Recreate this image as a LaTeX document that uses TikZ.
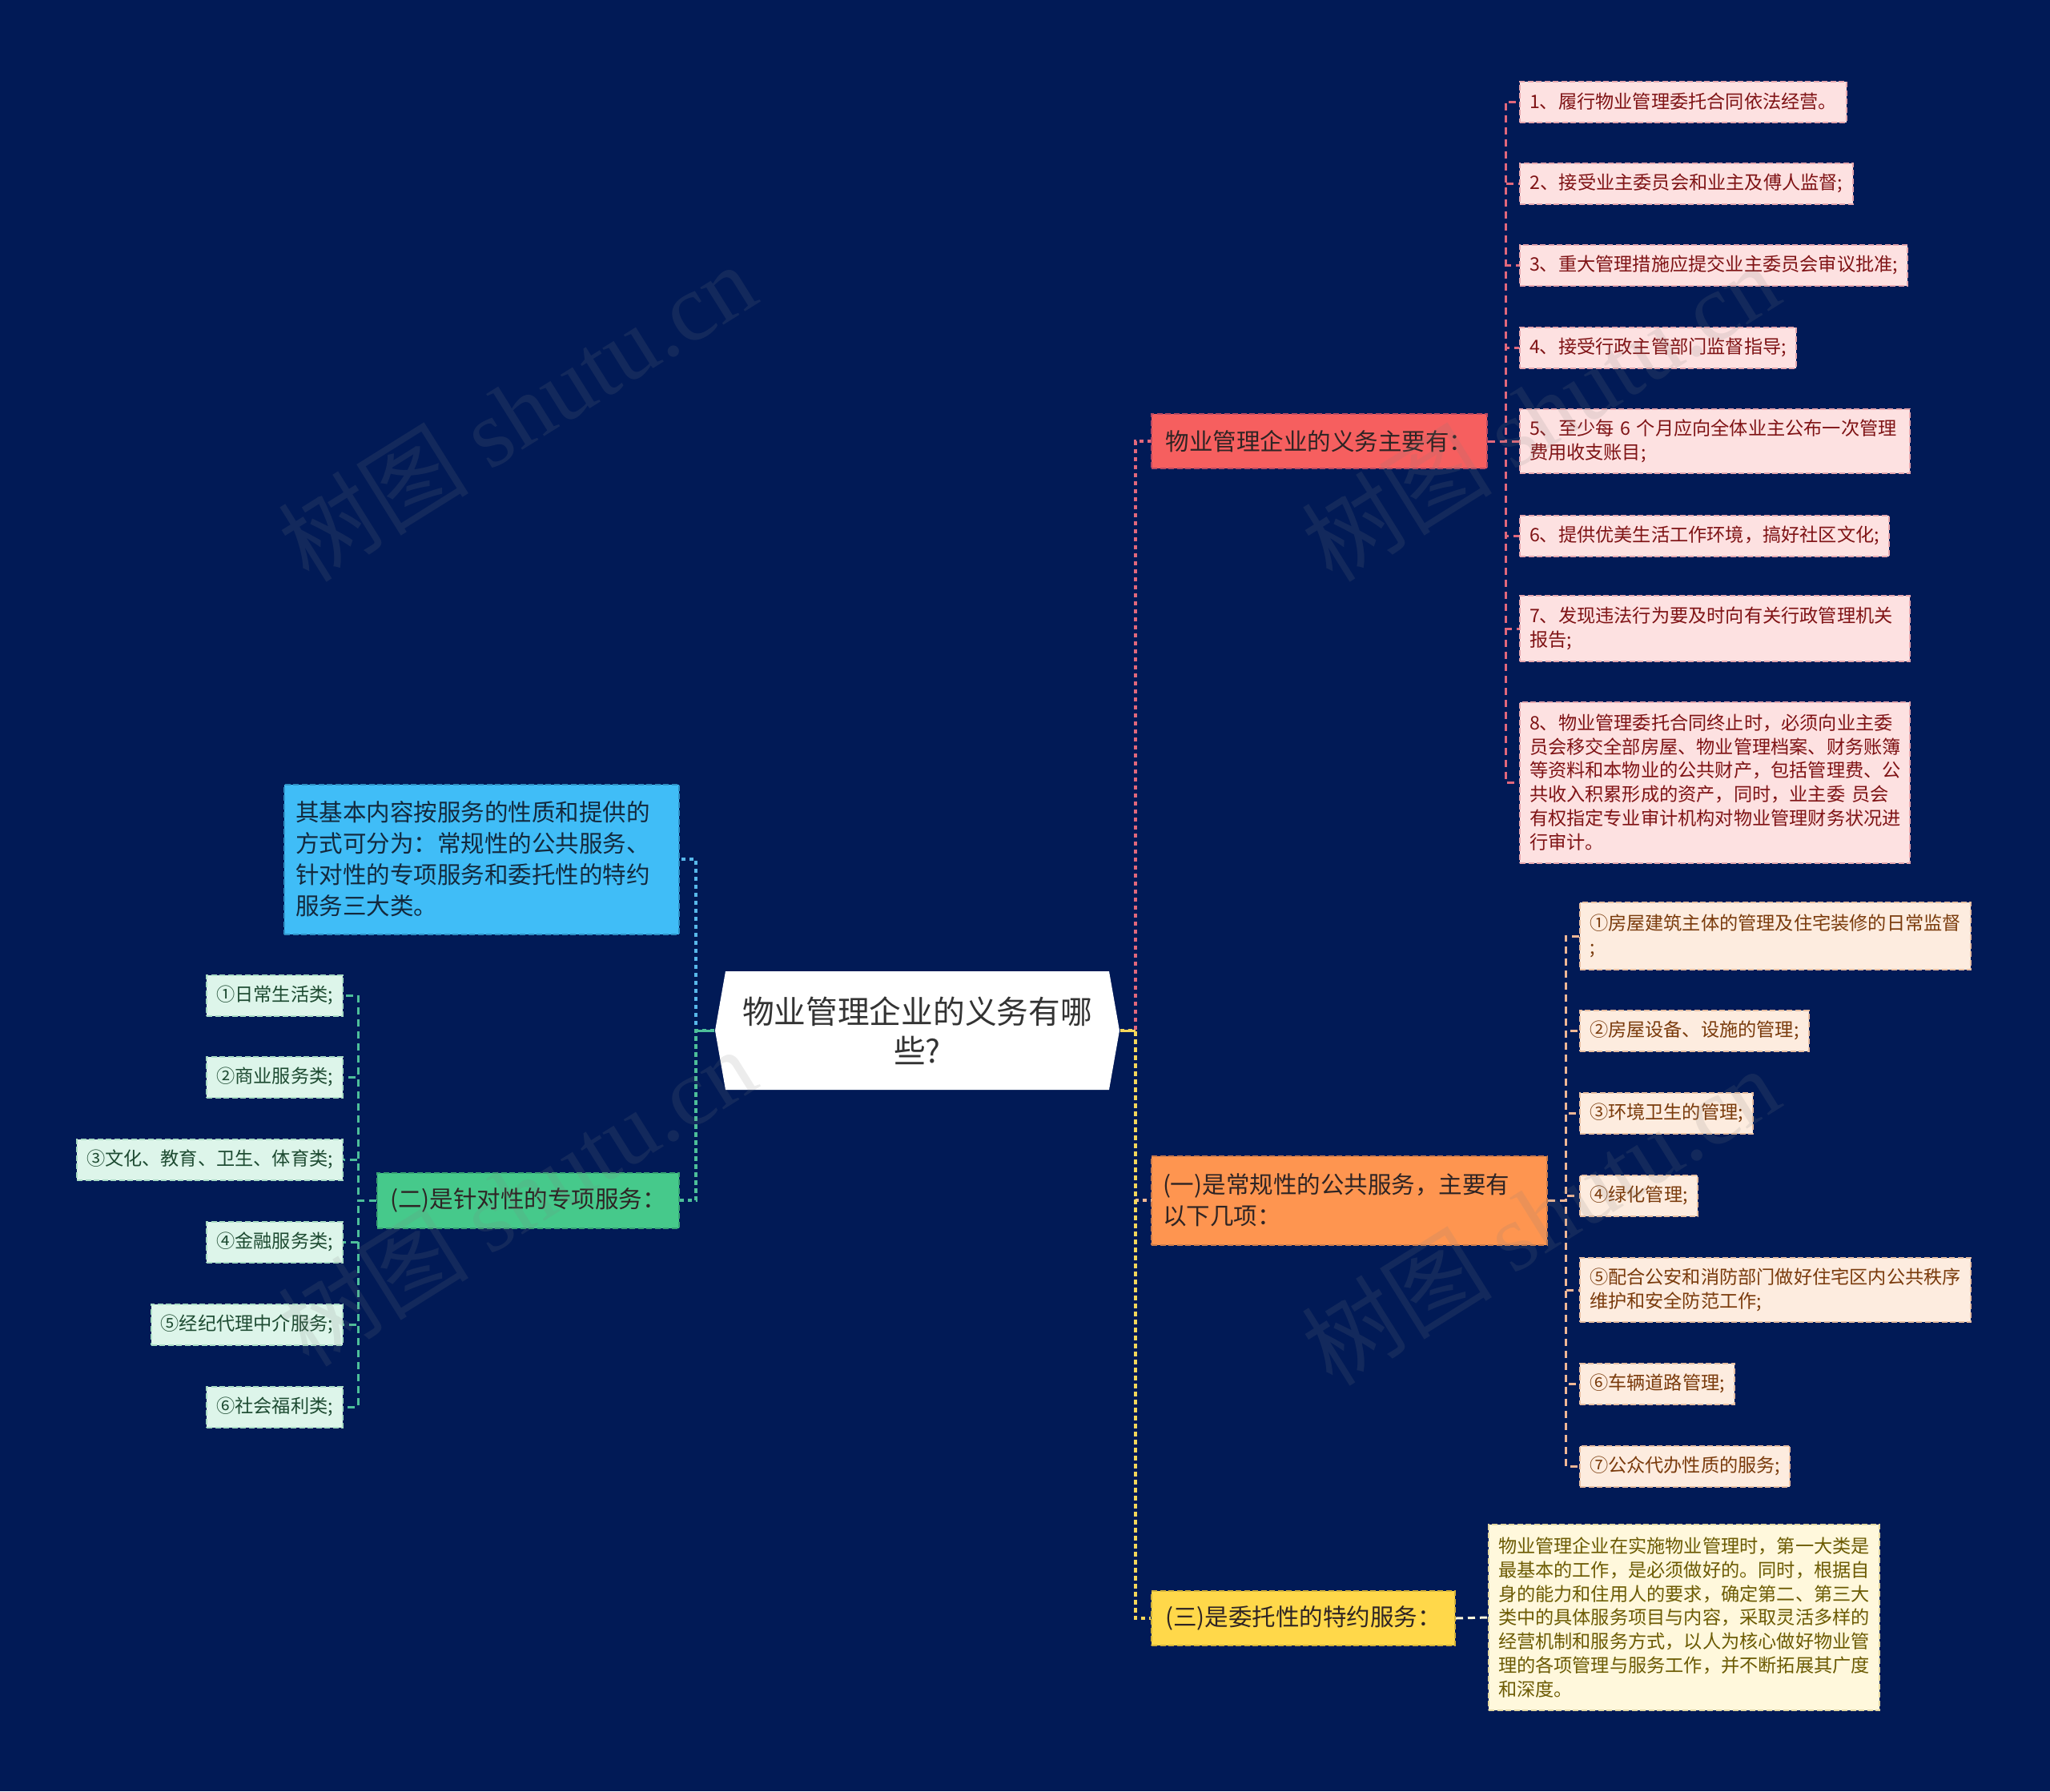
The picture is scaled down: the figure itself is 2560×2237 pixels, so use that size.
\documentclass[tikz,border=0pt]{standalone}
\usepackage{fontspec}
\newfontfamily\cjk{Noto Sans CJK SC}
\newfontfamily\wmfont{Liberation Serif}

\definecolor{bgnavy}{HTML}{011A56}
\definecolor{roottext}{HTML}{333333}
\definecolor{branchtext}{HTML}{2E2424}
\definecolor{redfill}{HTML}{F65F5F}
\definecolor{redborder}{HTML}{B84A62}
\definecolor{redline}{HTML}{E2687C}
\definecolor{redleaf}{HTML}{FDE1E1}
\definecolor{redleafborder}{HTML}{E6A7AE}
\definecolor{redleaftext}{HTML}{7F1315}
\definecolor{orangefill}{HTML}{FE9550}
\definecolor{orangeborder}{HTML}{C97A4C}
\definecolor{orangeline}{HTML}{F0B896}
\definecolor{orangeleaf}{HTML}{FDECDF}
\definecolor{orangeleafborder}{HTML}{E8BFA2}
\definecolor{orangeleaftext}{HTML}{7A3B0C}
\definecolor{yellowfill}{HTML}{FFD84A}
\definecolor{yellowborder}{HTML}{D2B13A}
\definecolor{yellowline}{HTML}{F4D65A}
\definecolor{yellowleaf}{HTML}{FFF8DC}
\definecolor{yellowleafborder}{HTML}{E3D7A0}
\definecolor{yellowleaftext}{HTML}{6C5B03}
\definecolor{bluefill}{HTML}{40BDF7}
\definecolor{blueborder}{HTML}{2E8FC4}
\definecolor{blueline}{HTML}{58B8EA}
\definecolor{bluetext}{HTML}{13293D}
\definecolor{greenfill}{HTML}{46C98B}
\definecolor{greenborder}{HTML}{37A273}
\definecolor{greenline}{HTML}{4DBF9A}
\definecolor{greenleaf}{HTML}{DDF5EA}
\definecolor{greenleafborder}{HTML}{A9DCC4}
\definecolor{greenleaftext}{HTML}{1E4B32}

\begin{document}
\begin{tikzpicture}[x=0.1mm, y=-0.1mm,
  box/.style={inner ysep=0pt, line width=0.2mm, dash pattern=on 0.7mm off 0.35mm},
  rootbox/.style={font={\cjk\fontsize{11.3pt}{13.9pt}\selectfont}, text=roottext, align=center,
    minimum width=50.5mm, minimum height=14.8mm, inner sep=0pt},
  branch/.style={box, font={\cjk\fontsize{8.4pt}{11.1pt}\selectfont}, text=branchtext, inner xsep=1.4mm, align=left},
  leaf/.style={box, font={\cjk\fontsize{6.6pt}{8.5pt}\selectfont}, inner xsep=1.2mm, align=left, minimum height=5.1mm},
  dutyleaf/.style={leaf, fill=redleaf, draw=redleafborder, text=redleaftext, anchor=west},
  routineleaf/.style={leaf, fill=orangeleaf, draw=orangeleafborder, text=orangeleaftext, anchor=west},
  entrustleaf/.style={leaf, fill=yellowleaf, draw=yellowleafborder, text=yellowleaftext, anchor=west},
  specialleaf/.style={leaf, fill=greenleaf, draw=greenleafborder, text=greenleaftext, anchor=east},
  link/.style={line width=0.3mm, dash pattern=on 0.9mm off 0.6mm},
  trunk/.style={line width=0.4mm, dash pattern=on 0.55mm off 0.45mm},
  stub/.style={line width=0.3mm},
  watermark/.style={font={\cjk\fontsize{34pt}{34pt}\selectfont}, text=gray, text opacity=0.15, rotate=32}]

  \useasboundingbox (0,0) rectangle (2560,2237);
  \fill[bgnavy] (0,0) rectangle (2560,2237);

  % centre topic
  \fill[white] (906,1213) -- (1385,1213) -- (1398,1287) -- (1385,1361) -- (906,1361) -- (893,1287) -- cycle;
  \node[rootbox] (root) at (1145.5,1287) {物业管理企业的义务有哪\\些?};

  % right branches
  \node[branch, fill=redfill, draw=redborder, anchor=west, minimum width=41.9mm, minimum height=6.8mm]
    (duty) at (1437,551) {物业管理企业的义务主要有：};
  \node[branch, fill=orangefill, draw=orangeborder, anchor=west, text width=46.6mm, minimum height=11.1mm]
    (routine) at (1437,1499) {(一)是常规性的公共服务，主要有\\以下几项：};
  \node[branch, fill=yellowfill, draw=yellowborder, anchor=west, minimum width=37.9mm, minimum height=6.8mm]
    (entrust) at (1437,2021) {(三)是委托性的特约服务：};

  % left branches
  \node[branch, fill=bluefill, draw=blueborder, text=bluetext, anchor=east, text width=46.5mm, minimum height=18.7mm]
    (kinds) at (849,1073) {其基本内容按服务的性质和提供的\\方式可分为：常规性的公共服务、\\针对性的专项服务和委托性的特约\\服务三大类。};
  \node[branch, fill=greenfill, draw=greenborder, anchor=east, minimum width=37.7mm, minimum height=6.9mm]
    (special) at (849,1499) {(二)是针对性的专项服务：};

  % duties
  \node[dutyleaf, minimum width=40.8mm] (d1) at (1897,127) {1、履行物业管理委托合同依法经营。};
  \node[dutyleaf, minimum width=41.6mm] (d2) at (1897,229) {2、接受业主委员会和业主及傅人监督;};
  \node[dutyleaf, minimum width=48.3mm] (d3) at (1897,331) {3、重大管理措施应提交业主委员会审议批准;};
  \node[dutyleaf, minimum width=34.5mm] (d4) at (1897,434) {4、接受行政主管部门监督指导;};
  \node[dutyleaf, text width=46.3mm, minimum height=8mm] (d5) at (1897,551) {5、至少每 6 个月应向全体业主公布一次管理\\费用收支账目;};
  \node[dutyleaf, minimum width=46.1mm] (d6) at (1897,669) {6、提供优美生活工作环境，搞好社区文化;};
  \node[dutyleaf, text width=46.3mm, minimum height=8.2mm] (d7) at (1897,785) {7、发现违法行为要及时向有关行政管理机关\\报告;};
  \node[dutyleaf, text width=46.3mm, minimum height=20.1mm] (d8) at (1897,977) {8、物业管理委托合同终止时，必须向业主委\\员会移交全部房屋、物业管理档案、财务账簿\\等资料和本物业的公共财产，包括管理费、公\\共收入积累形成的资产，同时，业主委 员会\\有权指定专业审计机构对物业管理财务状况进\\行审计。};

  % routine services
  \node[routineleaf, text width=46.4mm, minimum height=8.4mm] (r1) at (1972,1169) {①房屋建筑主体的管理及住宅装修的日常监督\\;};
  \node[routineleaf, minimum width=28.3mm] (r2) at (1972,1287) {②房屋设备、设施的管理;};
  \node[routineleaf, minimum width=21.6mm] (r3) at (1972,1390) {③环境卫生的管理;};
  \node[routineleaf, minimum width=14.7mm] (r4) at (1972,1493) {④绿化管理;};
  \node[routineleaf, text width=46.4mm, minimum height=8mm] (r5) at (1972,1611) {⑤配合公安和消防部门做好住宅区内公共秩序\\维护和安全防范工作;};
  \node[routineleaf, minimum width=19.3mm] (r6) at (1972,1728) {⑥车辆道路管理;};
  \node[routineleaf, minimum width=26mm] (r7) at (1972,1831) {⑦公众代办性质的服务;};

  % entrusted services
  \node[entrustleaf, text width=46.4mm, minimum height=23.2mm] (e1) at (1858,2020) {物业管理企业在实施物业管理时，第一大类是\\最基本的工作，是必须做好的。同时，根据自\\身的能力和住用人的要求，确定第二、第三大\\类中的具体服务项目与内容，采取灵活多样的\\经营机制和服务方式，以人为核心做好物业管\\理的各项管理与服务工作，并不断拓展其广度\\和深度。};

  % special services
  \node[specialleaf, minimum width=16.8mm] (s1) at (429,1243) {①日常生活类;};
  \node[specialleaf, minimum width=16.8mm] (s2) at (429,1345) {②商业服务类;};
  \node[specialleaf, minimum width=32.9mm] (s3) at (429,1448) {③文化、教育、卫生、体育类;};
  \node[specialleaf, minimum width=16.8mm] (s4) at (429,1551) {④金融服务类;};
  \node[specialleaf, minimum width=23.8mm] (s5) at (429,1654) {⑤经纪代理中介服务;};
  \node[specialleaf, minimum width=16.8mm] (s6) at (429,1757) {⑥社会福利类;};

  % connectors
  \draw[trunk, blueline] (root.west) -- ++(-23,0) |- (kinds.east);
  \draw[trunk, greenline] (root.west) -- ++(-23,0) |- (special.east);
  \draw[trunk, redline] (root.east) -- ++(19,0) |- (duty.west);
  \draw[trunk, orangeline] (root.east) -- ++(19,0) |- (routine.west);
  \draw[trunk, yellowline] (root.east) -- ++(19,0) |- (entrust.west);
  \draw[stub, greenline] (root.west) -- ++(-23,0);
  \draw[stub, yellowline] (root.east) -- ++(19,0);

  \draw[link, redline] (duty.east) -- ++(22,0) |- (d1.west);
  \draw[link, redline] (duty.east) -- ++(22,0) |- (d2.west);
  \draw[link, redline] (duty.east) -- ++(22,0) |- (d3.west);
  \draw[link, redline] (duty.east) -- ++(22,0) |- (d4.west);
  \draw[link, redline] (duty.east) -- ++(22,0) |- (d5.west);
  \draw[link, redline] (duty.east) -- ++(22,0) |- (d6.west);
  \draw[link, redline] (duty.east) -- ++(22,0) |- (d7.west);
  \draw[link, redline] (duty.east) -- ++(22,0) |- (d8.west);

  \draw[link, orangeline] (routine.east) -- ++(22,0) |- (r1.west);
  \draw[link, orangeline] (routine.east) -- ++(22,0) |- (r2.west);
  \draw[link, orangeline] (routine.east) -- ++(22,0) |- (r3.west);
  \draw[link, orangeline] (routine.east) -- ++(22,0) |- (r4.west);
  \draw[link, orangeline] (routine.east) -- ++(22,0) |- (r5.west);
  \draw[link, orangeline] (routine.east) -- ++(22,0) |- (r6.west);
  \draw[link, orangeline] (routine.east) -- ++(22,0) |- (r7.west);

  \draw[link, yellowleaf] (entrust.east) -- (e1.west);

  \draw[link, greenline] (special.west) -- ++(-23,0) |- (s1.east);
  \draw[link, greenline] (special.west) -- ++(-23,0) |- (s2.east);
  \draw[link, greenline] (special.west) -- ++(-23,0) |- (s3.east);
  \draw[link, greenline] (special.west) -- ++(-23,0) |- (s4.east);
  \draw[link, greenline] (special.west) -- ++(-23,0) |- (s5.east);
  \draw[link, greenline] (special.west) -- ++(-23,0) |- (s6.east);

  % watermarks
  \node[watermark] (wm1) at (645,514) {树图 {\wmfont shutu.cn}};
  \node[watermark] (wm2) at (1923,514) {树图 {\wmfont shutu.cn}};
  \node[watermark] (wm3) at (645,1494) {树图 {\wmfont shutu.cn}};
  \node[watermark] (wm4) at (1923,1518) {树图 {\wmfont shutu.cn}};
\end{tikzpicture}
\end{document}
